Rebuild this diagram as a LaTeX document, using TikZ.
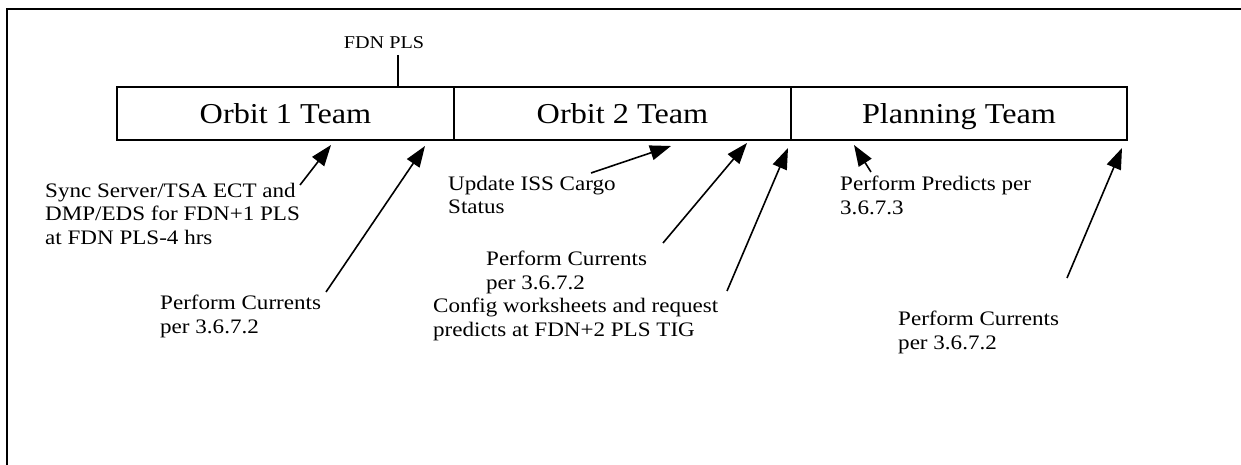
\documentclass[tikz,border=0pt]{standalone}
\usepackage{fontspec}
\setmainfont{Liberation Serif}[FakeStretch=1.12]
\usetikzlibrary{arrows.meta}
\begin{document}
\begin{tikzpicture}[x=1pt,y=-1pt,
  team/.style={draw, line width=1.7pt, minimum height=53pt, inner sep=0pt, text height=26pt, text depth=5pt, font=\fontsize{28.8}{28.8}\selectfont},
  lbl/.style={anchor=north west, inner sep=0pt, align=left, font=\fontsize{20.6}{23.4}\selectfont},
  arr/.style={line width=1.6pt, -{Triangle[length=21pt,width=15pt]}},
]
\useasboundingbox (0,0) rectangle (1241,465);
\draw[line width=2pt] (1241,9) -- (7,9) -- (7,465);
% team boxes
\node[team, minimum width=337pt] (o1) at (285.5,113.5) {Orbit 1 Team};
\node[team, minimum width=337pt] (o2) at (622.5,113.5) {Orbit 2 Team};
\node[team, minimum width=336pt] (pl) at (959,113.5) {Planning Team};
% FDN PLS marker
\node[inner sep=0pt, anchor=base, font=\fontsize{18}{18}\selectfont] (fdn) at (384,49) {FDN PLS};
\coordinate (st) at (398,55);
\draw[line width=1.5pt] (st) -- (st |- o1.north);
% labels
\node[lbl] (sync) at (45,183) {Sync Server/TSA ECT and\\DMP/EDS for FDN+1 PLS\\at FDN PLS-4 hrs};
\node[lbl] (upd) at (448,176) {Update ISS Cargo\\Status};
\node[lbl] (pred) at (840,176) {Perform Predicts per\\3.6.7.3};
\node[lbl] (curm) at (486,251) {Perform Currents\\per 3.6.7.2};
\node[lbl] (cfg) at (433,298) {Config worksheets and request\\predicts at FDN+2 PLS TIG};
\node[lbl] (curl) at (160,295) {Perform Currents\\per 3.6.7.2};
\node[lbl] (curr) at (898,311) {Perform Currents\\per 3.6.7.2};
% arrow ends
\coordinate (ta) at (300,185);  \coordinate (ha) at (331,145);
\coordinate (tb) at (326,292);  \coordinate (hb) at (425,146);
\coordinate (tc) at (591,173);  \coordinate (hc) at (671,146);
\coordinate (td) at (663,243);  \coordinate (hd) at (747,143);
\coordinate (te) at (727,291);  \coordinate (he) at (788,148);
\coordinate (tf) at (871,172);  \coordinate (hf) at (854,145);
\coordinate (tg) at (1067,278); \coordinate (hg) at (1122,148);
\draw[arr] (ta) -- (ha);
\draw[arr] (tb) -- (hb);
\draw[arr] (tc) -- (hc);
\draw[arr] (td) -- (hd);
\draw[arr] (te) -- (he);
\draw[arr] (tf) -- (hf);
\draw[arr] (tg) -- (hg);
\end{tikzpicture}
\end{document}
